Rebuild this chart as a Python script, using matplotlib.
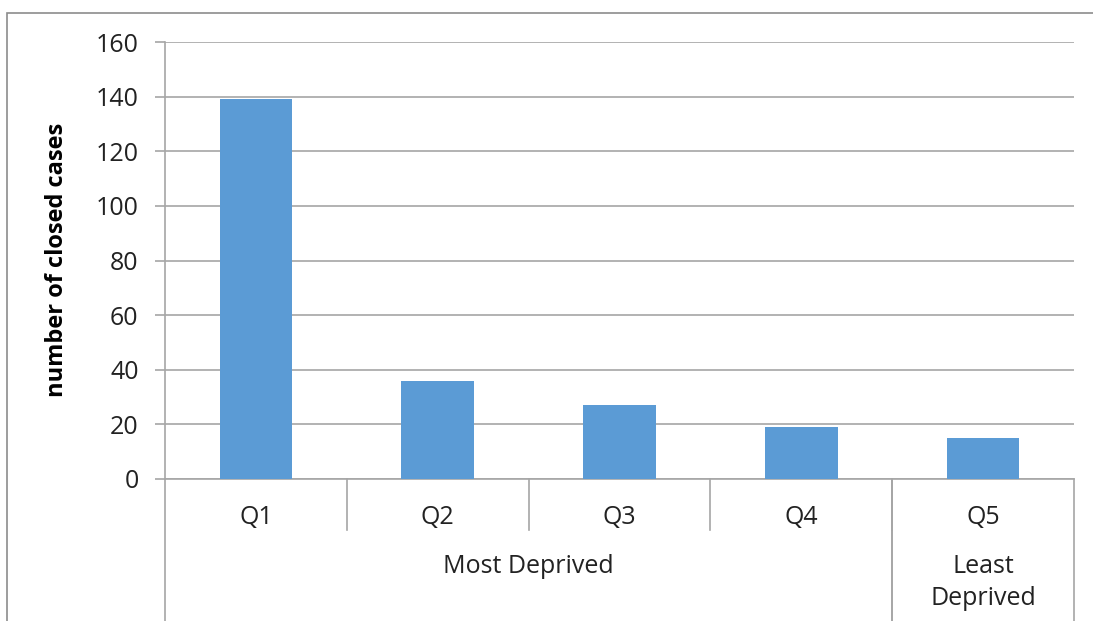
import matplotlib.pyplot as plt
import matplotlib.transforms as mtransforms
from matplotlib.patches import Rectangle

plt.rcParams['font.family'] = ['Open Sans', 'DejaVu Sans']

# quintile data
quintiles = ["Q1", "Q2", "Q3", "Q4", "Q5"]
closed_cases = [139, 36, 27, 19, 15]
# outer category level: label lines, first index, last index
groups = [(["Most Deprived"], 0, 3), (["Least", "Deprived"], 4, 4)]
y_ticks = [0, 20, 40, 60, 80, 100, 120, 140, 160]

W, H = 1093, 621
fig = plt.figure(figsize=(W / 100, H / 100), dpi=100)

# chart border (right and bottom edges run off the image)
fig.patches.append(Rectangle((7 / W, -0.05), 1.1, (H - 13) / H + 0.05,
                             transform=fig.transFigure, fill=False,
                             edgecolor="#8c8c8c", linewidth=1.2))

ax = fig.add_axes([165 / W, (H - 479) / H, (1074 - 165) / W, (479 - 42) / H])
grid_col = "#a6a6a6"
text_col = "#222222"
fs = 18

x = list(range(len(quintiles)))
ax.bar(x, closed_cases, width=0.4, color="#5b9bd5", zorder=3)

ax.set_xlim(-0.5, len(quintiles) - 0.5)
ax.set_ylim(0, 160)
ax.set_yticks(y_ticks)
ax.set_yticklabels([str(v) for v in y_ticks], fontsize=fs, color=text_col)
ax.yaxis.grid(True, color=grid_col, linewidth=1.2, zorder=0)
ax.tick_params(axis="y", length=7, width=1.2, color=grid_col, pad=12)
ax.set_xticks([])

for side in ["top", "right"]:
    ax.spines[side].set_visible(False)
for side in ["left", "bottom"]:
    ax.spines[side].set_color(grid_col)
    ax.spines[side].set_linewidth(1.2)

# two-level category axis below the plot
trans = mtransforms.blended_transform_factory(ax.transData, ax.transAxes)
ax_h = 479 - 42
inner = -51 / ax_h
outer = -160 / ax_h

for i, q in enumerate(quintiles):
    ax.text(i, -45 / ax_h, q, transform=trans, ha="center", va="baseline",
            fontsize=fs, color=text_col)
    if i > 0:
        ax.plot([i - 0.5, i - 0.5], [0, inner], transform=trans, color=grid_col,
                linewidth=1.2, clip_on=False)

for lines, first, last in groups:
    xc = (first + last) / 2
    for k, line in enumerate(lines):
        ax.text(xc, -(94 + 32 * k) / ax_h, line, transform=trans, ha="center",
                va="baseline", fontsize=fs, color=text_col)
    for edge in (first - 0.5, last + 0.5):
        ax.plot([edge, edge], [0, outer], transform=trans, color=grid_col,
                linewidth=1.2, clip_on=False)

fig.text(57 / W, (H - 260) / H, "number of closed cases", rotation=90,
         ha="center", va="center", fontsize=17, fontweight="bold", color="black")

fig.savefig("out.png", dpi=100)
